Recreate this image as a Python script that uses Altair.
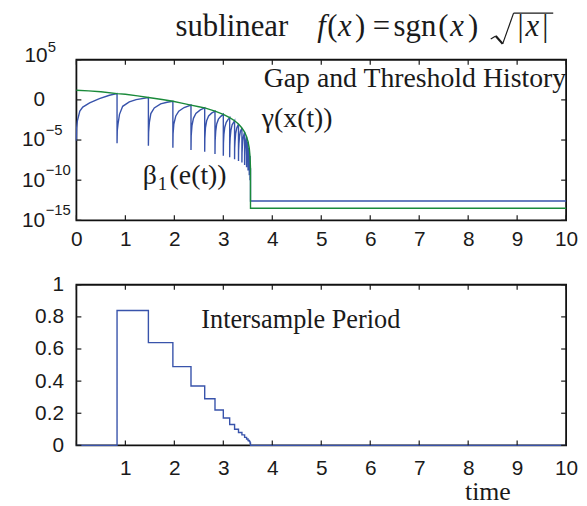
import altair as alt
import pandas as pd

# ---------------- data ----------------
# top panel values are log10 of the plotted quantity
green_t = [0.0, 0.25, 0.5, 0.83, 1.0, 1.25, 1.47, 1.75, 1.97, 2.15, 2.34, 2.5, 2.62, 2.83, 3.0,
           3.13, 3.23, 3.31, 3.38, 3.435, 3.475, 3.505, 3.53, 3.545, 3.555, 3.555, 10.0]
green_v = [1.2, 1.12, 1.02, 0.78, 0.7, 0.5, 0.3, 0.05, -0.17, -0.4, -0.65, -0.85, -1.0, -1.4, -1.8,
           -2.2, -2.6, -3.0, -3.5, -4.0, -4.6, -5.2, -6.0, -7.0, -8.5, -13.5, -13.5]

blue_t = [0.0, 0.005, 0.02, 0.07, 0.13, 0.27, 0.47, 0.675, 0.83,
          0.83, 0.835, 0.85, 0.88, 0.945, 1.08, 1.22, 1.47,
          1.47, 1.475, 1.49, 1.52, 1.59, 1.72, 1.85, 1.97,
          1.97, 1.974, 1.99, 2.03, 2.09, 2.2, 2.34,
          2.34, 2.344, 2.36, 2.39, 2.44, 2.53, 2.62,
          2.62, 2.623, 2.635, 2.66, 2.70, 2.76, 2.83,
          2.83, 2.833, 2.845, 2.865, 2.9, 2.95, 3.0,
          3.0, 3.003, 3.012, 3.03, 3.06, 3.095, 3.13,
          3.13, 3.133, 3.14, 3.155, 3.18, 3.23,
          3.23, 3.232, 3.24, 3.252, 3.275, 3.31,
          3.31, 3.312, 3.318, 3.33, 3.35, 3.38,
          3.38, 3.382, 3.388, 3.398, 3.413, 3.435,
          3.435, 3.437, 3.443, 3.452, 3.475,
          3.475, 3.477, 3.483, 3.49, 3.505,
          3.505, 3.507, 3.513, 3.53,
          3.53, 3.533, 3.545,
          3.545, 3.548, 3.555,
          3.555, 10.0]
blue_v = [-5.1, -3.5, -2.6, -1.4, -0.9, -0.37, 0.16, 0.58, 0.78,
          -5.4, -3.8, -3.0, -1.8, -0.8, -0.25, 0.04, 0.3,
          -5.7, -4.0, -2.8, -1.7, -1.0, -0.5, -0.3, -0.17,
          -5.95, -4.2, -3.0, -2.0, -1.4, -0.95, -0.65,
          -6.25, -4.5, -3.2, -2.3, -1.7, -1.25, -1.0,
          -6.45, -4.8, -3.5, -2.6, -2.0, -1.65, -1.4,
          -6.75, -5.1, -3.9, -3.0, -2.4, -2.05, -1.8,
          -6.95, -5.4, -4.3, -3.4, -2.8, -2.45, -2.2,
          -7.15, -5.7, -4.7, -3.8, -3.1, -2.6,
          -7.4, -6.0, -5.1, -4.2, -3.5, -3.0,
          -7.6, -6.3, -5.5, -4.6, -3.9, -3.5,
          -7.8, -6.6, -5.9, -5.1, -4.5, -4.0,
          -8.1, -7.0, -6.2, -5.4, -4.6,
          -8.4, -7.4, -6.6, -5.9, -5.2,
          -8.8, -7.8, -7.0, -6.0,
          -9.4, -8.3, -7.0,
          -10.0, -9.2, -8.5,
          -12.6, -12.6]

# bottom panel: intersample period (step-after)
step_t = [0.0, 0.83, 1.47, 1.97, 2.34, 2.62, 2.83, 3.0, 3.13, 3.23, 3.31, 3.38, 3.435,
          3.475, 3.505, 3.53, 3.545, 3.555, 10.0]
step_v = [0.0, 0.84, 0.64, 0.49, 0.37, 0.29, 0.22, 0.17, 0.13, 0.10, 0.08, 0.065, 0.05,
          0.04, 0.03, 0.025, 0.015, 0.0, 0.0]

top_xticks = [0, 1, 2, 3, 4, 5, 6, 7, 8, 9, 10]
top_yticks = [5, 0, -5, -10, -15]
top_ylabels = [0, -5, -10, -15]
top_yexp = ["", "\u22125", "\u221210", "\u221215"]
bot_xticks = [0, 1, 2, 3, 4, 5, 6, 7, 8, 9, 10]
bot_xlabels = [1, 2, 3, 4, 5, 6, 7, 8, 9, 10]
bot_yticks = [0, 0.2, 0.4, 0.6, 0.8, 1]

# ---------------- layout / style ----------------
W, H1, H2, GAP = 494, 162, 162, 65
BLUE = "#3853ab"
GREEN = "#1a8a3a"
INK = "#1a1a1a"
SANS = "Liberation Sans"
SERIF = "Liberation Serif"
TICK = 5

def ax(values, pad, expr=None, fmt=None):
    kw = dict(values=values, title=None, ticks=False, domain=False, grid=False,
              labelFont=SANS, labelFontSize=21, labelColor=INK, labelPadding=pad,
              labelFlush=False, labelOverlap=False)
    if expr:
        kw["labelExpr"] = expr
    if fmt:
        kw["format"] = fmt
    return alt.Axis(**kw)

X1 = alt.X("t:Q", scale=alt.Scale(domain=[0, 10], nice=False, zero=False),
           axis=ax(top_xticks, 8))
Y1 = alt.Y("v:Q", scale=alt.Scale(domain=[-15, 5], nice=False, zero=False),
           axis=ax(top_ylabels, 32, "datum.value == 0 ? '0' : '10'"))

X2 = alt.X("t:Q", scale=alt.Scale(domain=[0, 10], nice=False, zero=False),
           axis=ax(bot_xlabels, 12))
Y2 = alt.Y("v:Q", scale=alt.Scale(domain=[0, 1], nice=False, zero=False),
           axis=ax(bot_yticks, 13, fmt="~g"))

blue_df = pd.DataFrame({"t": blue_t, "v": blue_v, "i": range(len(blue_t))})
green_df = pd.DataFrame({"t": green_t, "v": green_v, "i": range(len(green_t))})
step_df = pd.DataFrame({"t": step_t, "v": step_v})

def text(label, x, y, size=28, font=SERIF, style="normal", align="left", baseline="alphabetic"):
    return alt.Chart(pd.DataFrame({"label": [label]})).mark_text(
        font=font, fontSize=size, fontStyle=style, color=INK, align=align,
        baseline=baseline).encode(x=alt.value(x), y=alt.value(y), text="label:N")

def seg(x1, y1, x2, y2, w=1.3):
    return alt.Chart(pd.DataFrame({"a": [0]})).mark_rule(color=INK, strokeWidth=w).encode(
        x=alt.value(x1), y=alt.value(y1), x2=alt.value(x2), y2=alt.value(y2))

def ticks_layers(xt, yt, X, Y, H):
    dx = pd.DataFrame({"t": xt})
    dy = pd.DataFrame({"v": yt})
    st = dict(color=INK, strokeWidth=1.2)
    return [
        alt.Chart(dx).mark_rule(**st).encode(x=X, y=alt.value(H), y2=alt.value(H - TICK)),
        alt.Chart(dx).mark_rule(**st).encode(x=X, y=alt.value(0), y2=alt.value(TICK)),
        alt.Chart(dy).mark_rule(**st).encode(y=Y, x=alt.value(0), x2=alt.value(TICK)),
        alt.Chart(dy).mark_rule(**st).encode(y=Y, x=alt.value(W - TICK), x2=alt.value(W)),
    ]

# anchor that fixes the plot origin inside the canvas
anchor = alt.Chart(pd.DataFrame({"a": [0]})).mark_rect(opacity=0).encode(
    x=alt.value(-68), x2=alt.value(-67), y=alt.value(-48), y2=alt.value(-47))

blue_line = alt.Chart(blue_df).mark_line(color=BLUE, strokeWidth=1.4).encode(
    x=X1, y=Y1, order="i:Q")
green_line = alt.Chart(green_df).mark_line(color=GREEN, strokeWidth=1.4).encode(
    x=X1, y=Y1, order="i:Q")

exp_df = pd.DataFrame({"v": top_ylabels, "e": top_yexp})
exps = alt.Chart(exp_df).mark_text(font=SANS, fontSize=15, color=INK, align="left",
                                   baseline="middle", dy=-10).encode(
    y=Y1, x=alt.value(-31), text="e:N")

TB = -24  # title baseline
top = alt.layer(
    anchor, blue_line, green_line, *ticks_layers(top_xticks, top_yticks, X1, Y1, H1), exps,
    # top y label 10^5 (drawn slightly raised, as in the reference)
    text("10", -29, -4, size=21, font=SANS, align="right", baseline="middle"),
    text("5", -29, -13, size=15, font=SANS, baseline="middle"),
    # title: sublinear   f(x) = sgn(x) sqrt(|x|)
    text("sublinear", 100, TB, size=31),
    text("f", 243, TB, size=31, style="italic"),
    text("(", 253, TB, size=31),
    text("x", 264, TB, size=31, style="italic"),
    text(")", 281, TB, size=31),
    text("=", 299, TB, size=31),
    text("sgn", 320, TB, size=31),
    text("(", 365, TB, size=31),
    text("x", 377, TB, size=31, style="italic"),
    text(")", 395, TB, size=31),
    seg(418, -21, 423, -24, 1.2),
    seg(423, -24, 430, -16, 2.2),
    seg(430, -16, 441, -47, 1.2),
    seg(441, -47, 481, -47, 1.3),
    text("|", 445, TB, size=31),
    text("x", 453, TB, size=31, style="italic"),
    text("|", 470, TB, size=31),
    # annotations
    text("Gap and Threshold History", 189, 27),
    text("\u03b3(x(t))", 187, 68),
    text("\u03b2", 67, 125),
    text("1", 82, 131, size=19),
    text("(e(t))", 94, 125),
).properties(width=W, height=H1)

step_line = alt.Chart(step_df).mark_line(color=BLUE, strokeWidth=1.4,
                                         interpolate="step-after").encode(x=X2, y=Y2)

bottom = alt.layer(
    step_line, *ticks_layers(bot_xticks, bot_yticks, X2, Y2, H2),
    text("Intersample Period", 126, 44, size=26.5),
    text("time", 392, 217, size=26),
).properties(width=W, height=H2)

chart = alt.vconcat(top, bottom, spacing=GAP, bounds="flush").properties(
    padding=0, background="white"
).configure_view(stroke="#111", strokeWidth=1.8)

chart.save("out.html", embed_options={"renderer": "svg", "actions": False})
